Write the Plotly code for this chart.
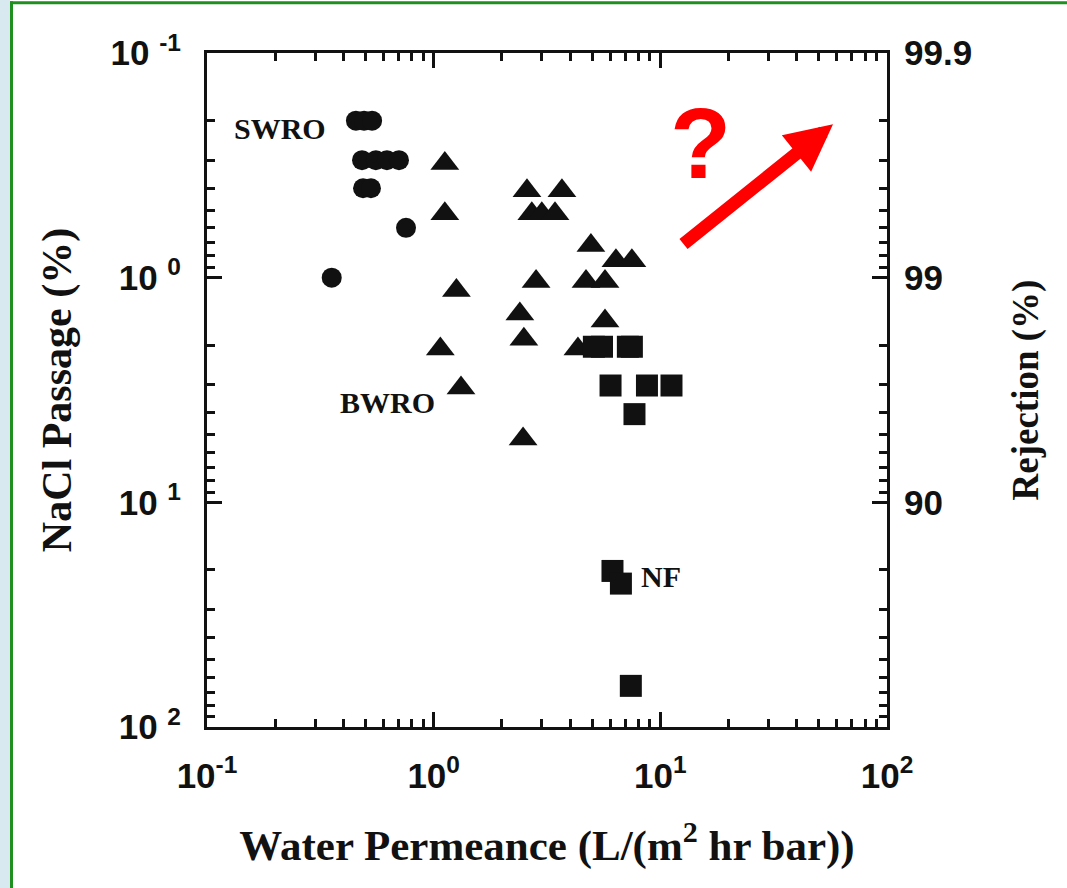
import plotly.graph_objects as go

# ---- data ----
swro_perm = [0.454, 0.493, 0.535, 0.483, 0.556, 0.622, 0.703, 0.488, 0.529, 0.755, 0.355]
swro_pass = [0.20, 0.20, 0.20, 0.30, 0.30, 0.30, 0.30, 0.40, 0.40, 0.60, 1.00]

bwro_perm = [1.12, 1.12, 1.26, 1.07, 1.32, 2.48, 2.58, 3.68, 2.71, 3.00, 3.43,
             4.94, 6.37, 7.49, 2.83, 4.70, 5.70, 2.40, 2.50, 5.70, 4.33]
bwro_pass = [0.31, 0.52, 1.14, 2.08, 3.10, 5.23, 0.41, 0.41, 0.52, 0.52, 0.52,
             0.72, 0.84, 0.84, 1.04, 1.04, 1.04, 1.45, 1.88, 1.56, 2.08]

nf_perm = [5.09, 5.53, 7.19, 7.49, 6.03, 8.73, 11.2, 7.69, 6.15, 6.70, 7.41]
nf_pass = [2.03, 2.03, 2.03, 2.03, 3.02, 3.02, 3.02, 4.05, 20.2, 23.0, 65.6]

decades = [0.1, 1, 10, 100]
x_ticktext = ["10<sup>-1</sup>", "10<sup>0</sup>", "10<sup>1</sup>", "10<sup>2</sup>"]
y_ticktext = ["10 <sup>-1</sup>", "10 <sup>0</sup>", "10 <sup>1</sup>", "10 <sup>2</sup>"]
rej_tickvals = [0.1, 1, 10]
rej_ticktext = ["99.9", "99", "90"]
minor_vals = [m * d for d in [0.1, 1, 10] for m in range(2, 10)]

INK = "#111111"
SERIF = "Liberation Serif"
SANS = "Liberation Sans"

fig = go.Figure()
fig.add_trace(go.Scatter(x=swro_perm, y=swro_pass, mode="markers", name="SWRO",
                         marker=dict(symbol="circle", size=20, color=INK, line=dict(width=0))))
fig.add_trace(go.Scatter(x=bwro_perm, y=bwro_pass, mode="markers", name="BWRO",
                         marker=dict(symbol="triangle-up", size=25, color=INK, line=dict(width=0))))
fig.add_trace(go.Scatter(x=nf_perm, y=nf_pass, mode="markers", name="NF",
                         marker=dict(symbol="square", size=22, color=INK, line=dict(width=0))))
# carrier trace for the right (rejection) axis
fig.add_trace(go.Scatter(x=[1], y=[1], yaxis="y2", mode="markers",
                         marker=dict(opacity=0), hoverinfo="skip", showlegend=False))

tickfont = dict(family=SANS, size=35, color=INK, weight="bold")
minor = dict(tickvals=minor_vals, ticks="inside", ticklen=8, tickwidth=3,
             tickcolor=INK, showgrid=False)

fig.update_layout(
    width=1067, height=888,
    margin=dict(l=207, r=180, t=53, b=161),
    paper_bgcolor="white", plot_bgcolor="white",
    showlegend=False,
    xaxis=dict(type="log", range=[-1, 2], tickmode="array", tickvals=decades,
               ticktext=x_ticktext, ticks="inside", ticklen=15, tickwidth=3,
               tickcolor=INK, showline=True, linewidth=3, linecolor=INK,
               mirror="ticks", showgrid=False, zeroline=False, minor=minor,
               tickfont=tickfont, ticklabelstandoff=16,
               title=dict(text="Water Permeance (L/(m<sup>2</sup> hr bar))",
                          font=dict(family=SERIF, size=43, color=INK, weight="bold"),
                          standoff=36)),
    yaxis=dict(type="log", range=[2, -1], tickmode="array", tickvals=decades,
               ticktext=y_ticktext, ticks="inside", ticklen=15, tickwidth=3,
               tickcolor=INK, showline=True, linewidth=3, linecolor=INK,
               mirror="ticks", showgrid=False, zeroline=False, minor=minor,
               tickfont=tickfont, ticklabelstandoff=16,
               title=dict(text="NaCl Passage (%)",
                          font=dict(family=SERIF, size=42, color=INK, weight="bold"),
                          standoff=26)),
    yaxis2=dict(type="log", range=[2, -1], overlaying="y", side="right",
                tickmode="array", tickvals=rej_tickvals, ticktext=rej_ticktext,
                ticks="", showline=False, showgrid=False, zeroline=False,
                tickfont=tickfont, ticklabelstandoff=16,
                title=dict(text="Rejection (%)",
                           font=dict(family=SERIF, size=37, color=INK, weight="bold"),
                           standoff=40)),
)

# frame of the source figure (left strip and green border)
fig.add_shape(type="rect", xref="paper", yref="paper",
              x0=-207 / 680, x1=-197 / 680, y0=-161 / 674.3, y1=(888 - 727) / 674.3 + 1.0,
              fillcolor="#d8eaf0", line=dict(width=0), layer="below")
fig.add_shape(type="line", xref="paper", yref="paper",
              x0=-195.5 / 680, x1=-195.5 / 680, y0=-161 / 674.3, y1=(727 - 1) / 674.3,
              line=dict(color="#1f8f1f", width=3))
fig.add_shape(type="line", xref="paper", yref="paper",
              x0=-197 / 680, x1=860 / 680, y0=(727 - 2.5) / 674.3, y1=(727 - 2.5) / 674.3,
              line=dict(color="#1f8f1f", width=3))

labfont = dict(family=SERIF, size=30, color=INK, weight="bold")
center = dict(xref="paper", yref="paper", xanchor="center", yanchor="middle", showarrow=False)
fig.add_annotation(text="SWRO", x=0.107, y=0.888, font=labfont, **center)
fig.add_annotation(text="BWRO", x=0.266, y=0.482, font=labfont, **center)
fig.add_annotation(text="NF", x=0.668, y=0.224, font=labfont, **center)
fig.add_annotation(text="?", x=0.725, y=0.866, font=dict(family=SANS, size=100, color="#ff0000", weight="bold"),
                   **center)
fig.add_annotation(text="", x=0.9206, y=0.8943, xref="paper", yref="paper",
                   ax=-151, ay=121, showarrow=True, arrowhead=2, arrowsize=0.72,
                   arrowwidth=13, arrowcolor="#ff0000")

fig.write_html("out.html")
